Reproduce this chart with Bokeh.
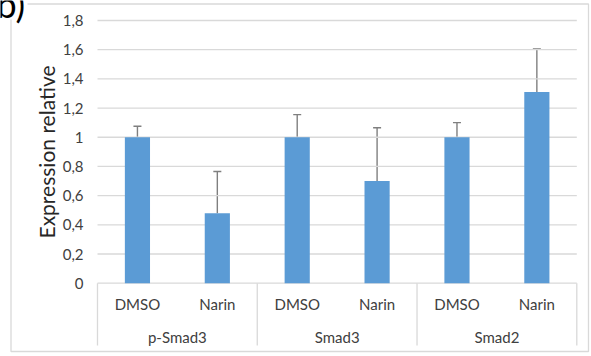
import math
from bokeh.plotting import figure
from bokeh.models import ColumnDataSource, Range1d, Whisker, TeeHead
from bokeh.core.properties import value
from bokeh.embed import file_html
from bokeh.resources import INLINE

# Data
groups = ["p-Smad3", "Smad3", "Smad2"]
treatments = ["DMSO", "Narin"]
means = [1.00, 0.48, 1.00, 0.70, 1.00, 1.31]
errors = [0.075, 0.285, 0.155, 0.365, 0.10, 0.295]
y_ticks = [0, 0.2, 0.4, 0.6, 0.8, 1.0, 1.2, 1.4, 1.6, 1.8]
y_tick_labels = ["0", "0,2", "0,4", "0,6", "0,8", "1", "1,2", "1,4", "1,6", "1,8"]

BAR = "#5B9BD5"
GRID = "#d9d9d9"
TEXT = "#404040"
FONT = "Lato"

# page layout (pixels): plot area and the value-axis scale
W, H = 591, 356
PLOT_L, PLOT_R, PLOT_T, ZERO_Y = 97, 576.3, 20, 282.7
n = len(groups) * len(treatments)
y_max = y_ticks[-1]
cat_px = (PLOT_R - PLOT_L) / n
unit_px = (ZERO_Y - PLOT_T) / y_max


def px_x(px):
    return (px - PLOT_L) / cat_px


def px_y(py):
    return (ZERO_Y - py) / unit_px


p = figure(width=W, height=H, output_backend="svg", toolbar_location=None,
           x_range=Range1d(px_x(0), px_x(W)), y_range=Range1d(px_y(H), px_y(0)),
           x_axis_type=None, y_axis_type=None,
           min_border=0, outline_line_color=None)
p.grid.visible = False

# chart-area border
p.quad(left=[px_x(10.5)], right=[px_x(588)], top=[px_y(3.5)], bottom=[px_y(351)],
       fill_color=None, line_color=GRID, line_width=1.3)

# horizontal gridlines and value labels
p.segment(x0=[0] * len(y_ticks), x1=[n] * len(y_ticks), y0=y_ticks, y1=y_ticks,
          line_color=GRID, line_width=1.3)
p.text(x=[px_x(83)] * len(y_ticks), y=y_ticks, text=y_tick_labels,
       text_align="right", text_baseline="middle", text_font=value(FONT),
       text_font_size="15px", text_color=TEXT)

# bars and upper error bars
xs = [i + 0.5 for i in range(n)]
src = ColumnDataSource(dict(x=xs, y=means, upper=[m + e for m, e in zip(means, errors)]))
p.vbar(x="x", top="y", bottom=0, width=0.315, source=src, color=BAR, line_color=None)
p.add_layout(Whisker(source=src, base="x", lower="y", upper="upper", dimension="height",
                     line_color="#7f7f7f", line_width=1.4, lower_head=None,
                     upper_head=TeeHead(size=8, line_color="#7f7f7f", line_width=1.4)))

# two-level category axis below zero
k = len(treatments)
edges = [g * k for g in range(len(groups) + 1)]
p.segment(x0=edges, x1=edges, y0=[0] * len(edges), y1=[px_y(345)] * len(edges),
          line_color=GRID, line_width=1.3)
p.text(x=xs, y=[px_y(303)] * n, text=treatments * len(groups),
       text_align="center", text_baseline="middle", text_font=value(FONT),
       text_font_size="15px", text_color=TEXT)
p.text(x=[g * k + k / 2 for g in range(len(groups))], y=[px_y(336)] * len(groups),
       text=groups, text_align="center", text_baseline="middle", text_font=value(FONT),
       text_font_size="15px", text_color=TEXT)

# axis title, reading upwards from its lower end
p.text(x=[px_x(46)], y=[px_y(238)], text=["Expression relative"], angle=math.pi / 2,
       text_align="left", text_baseline="middle", text_font=value(FONT),
       text_font_size="21px", text_color="#262626")

# panel letter over the border corner
p.quad(left=[px_x(0)], right=[px_x(27)], top=[px_y(0)], bottom=[px_y(19)],
       fill_color="white", line_color=None)
p.text(x=[px_x(-4)], y=[px_y(3)], text=["b)"], text_baseline="middle",
       text_font=value(FONT), text_font_size="36px", text_color="#000000")

open("out.html", "w").write(file_html(p, INLINE))
